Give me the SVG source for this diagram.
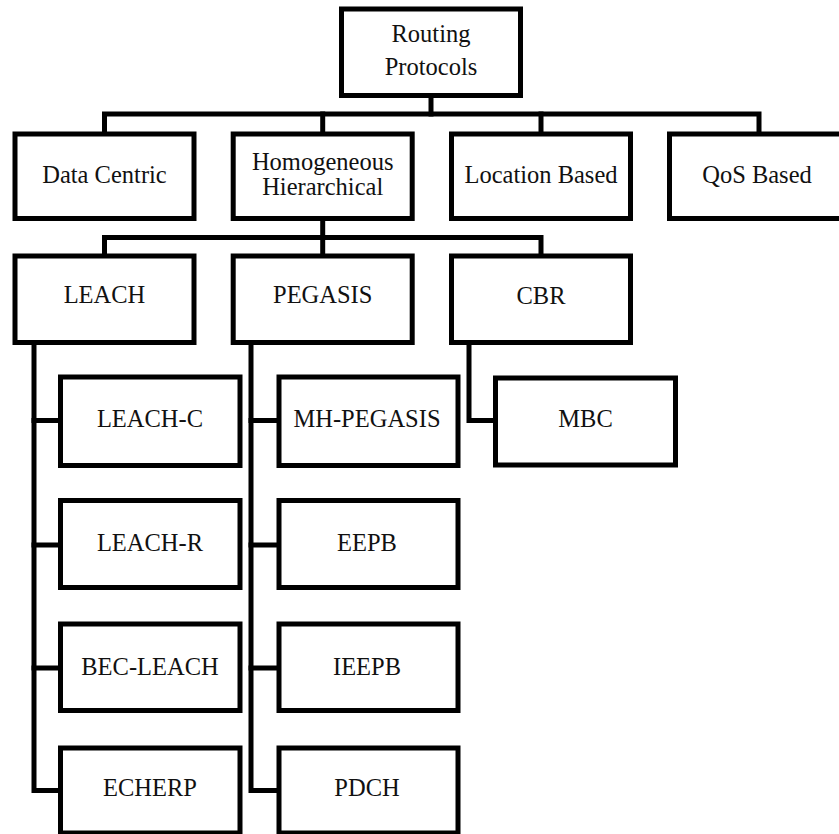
<svg xmlns="http://www.w3.org/2000/svg" width="839" height="834" viewBox="0 0 839 834">
<style>
.box{fill:#fff;stroke:#000;stroke-width:5;stroke-linejoin:miter}
.ln{fill:none;stroke:#000;stroke-width:5;stroke-linejoin:miter;stroke-linecap:square}
.t{font-family:'Liberation Serif','DejaVu Serif',serif;font-size:24.5px;fill:#111;text-anchor:middle}
</style>
<rect width="839" height="834" fill="#fff"/>
<g id="connectors">
<path class="ln" d="M431,96 V114"/>
<path class="ln" d="M104.5,134 V114 H759 V134"/>
<path class="ln" d="M322.7,114 V134"/>
<path class="ln" d="M541,114 V134"/>
<path class="ln" d="M322.7,219 V237.5"/>
<path class="ln" d="M104.5,256 V237.5 H541 V256"/>
<path class="ln" d="M322.7,237.5 V256"/>
<path class="ln" d="M34,343 V790.5 H60.5"/>
<path class="ln" d="M34,420.5 H60.5 M34,545 H60.5 M34,668 H60.5"/>
<path class="ln" d="M251,343 V790.5 H279"/>
<path class="ln" d="M251,420.5 H279 M251,545 H279 M251,668 H279"/>
<path class="ln" d="M469,343 V420.5 H495.5"/>
</g>
<g class="t" font-family="Liberation Serif, DejaVu Serif, serif">
<g id="routing-protocols"><rect class="box" x="341.5" y="9" width="179" height="86.5"/><text x="431" y="42">Routing</text><text x="431" y="75">Protocols</text></g>
<g id="data-centric"><rect class="box" x="15" y="134" width="179" height="84.5"/><text x="104.5" y="183">Data Centric</text></g>
<g id="homogeneous-hierarchical"><rect class="box" x="233.2" y="134" width="179" height="84.5"/><text x="322.7" y="170">Homogeneous</text><text x="322.7" y="195">Hierarchical</text></g>
<g id="location-based"><rect class="box" x="451.5" y="134" width="179" height="84.5"/><text x="541" y="183">Location Based</text></g>
<g id="qos-based"><rect class="box" x="669.5" y="134" width="180" height="84.5"/><text x="757" y="183">QoS Based</text></g>
<g id="leach"><rect class="box" x="15" y="256" width="179" height="86.5"/><text x="104.5" y="303">LEACH</text></g>
<g id="pegasis"><rect class="box" x="233.2" y="256" width="179" height="86.5"/><text x="322.7" y="303">PEGASIS</text></g>
<g id="cbr"><rect class="box" x="451.5" y="256" width="179" height="86.5"/><text x="541" y="304">CBR</text></g>
<g id="leach-c"><rect class="box" x="60.5" y="377" width="179.5" height="88.5"/><text x="150" y="427">LEACH-C</text></g>
<g id="leach-r"><rect class="box" x="60.5" y="500.5" width="179.5" height="87"/><text x="150" y="551">LEACH-R</text></g>
<g id="bec-leach"><rect class="box" x="60.5" y="624" width="179.5" height="86.5"/><text x="150" y="675">BEC-LEACH</text></g>
<g id="echerp"><rect class="box" x="60.5" y="748" width="179.5" height="85"/><text x="150" y="796">ECHERP</text></g>
<g id="mh-pegasis"><rect class="box" x="279" y="377" width="179" height="88.5"/><text x="367" y="427">MH-PEGASIS</text></g>
<g id="eepb"><rect class="box" x="279" y="500.5" width="179" height="87"/><text x="367" y="551">EEPB</text></g>
<g id="ieepb"><rect class="box" x="279" y="624" width="179" height="86.5"/><text x="367" y="675">IEEPB</text></g>
<g id="pdch"><rect class="box" x="279" y="748" width="179" height="85"/><text x="367" y="796">PDCH</text></g>
<g id="mbc"><rect class="box" x="495.5" y="378" width="180" height="87"/><text x="585.5" y="427">MBC</text></g>
</g>
</svg>
